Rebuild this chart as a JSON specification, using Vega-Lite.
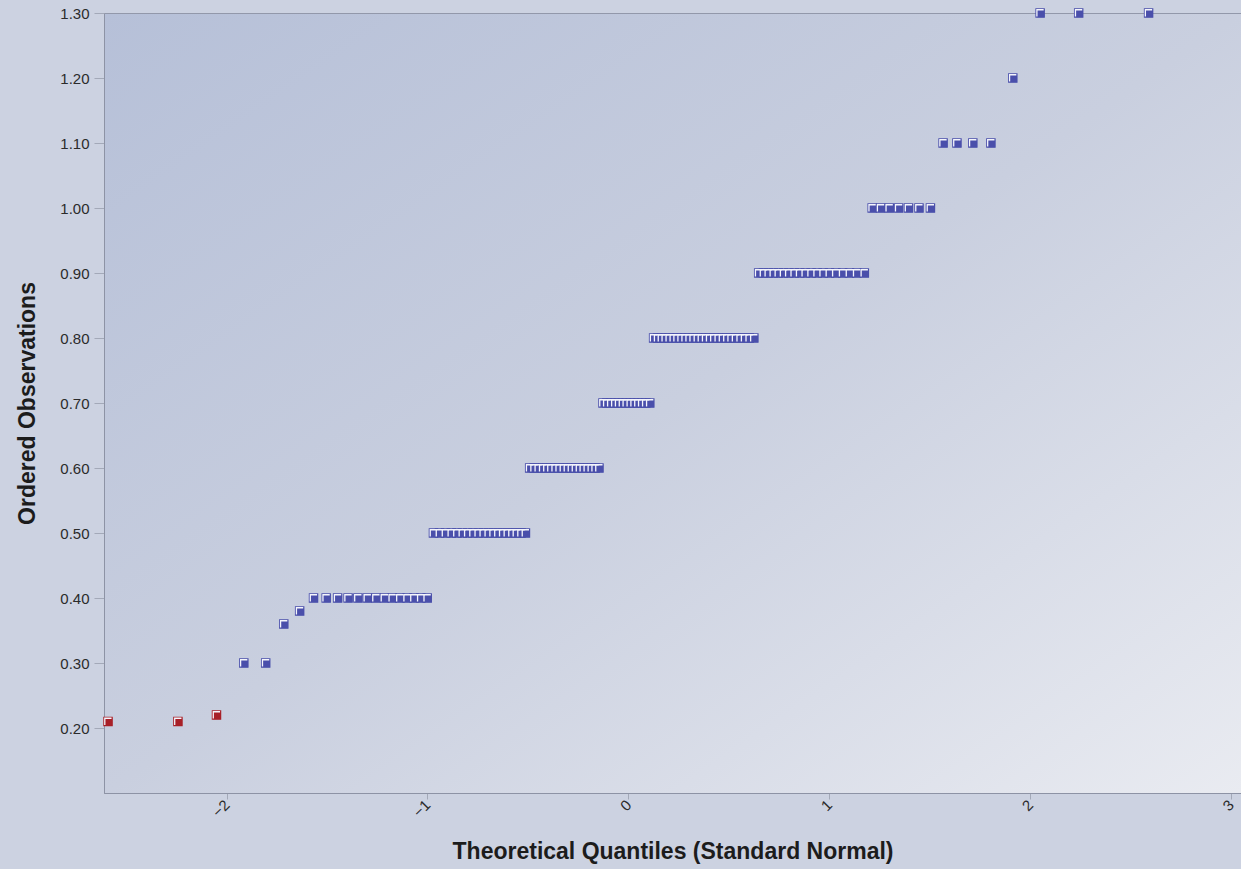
{
  "$schema": "https://vega.github.io/schema/vega-lite/v6.json",
  "autosize": {"type": "none"},
  "width": 1137,
  "height": 780,
  "padding": {"left": 104, "top": 13, "right": 0, "bottom": 76},
  "background": "#ccd2e1",
  "config": {
    "font": "Liberation Sans",
    "view": {
      "fill": {
        "gradient": "linear",
        "x1": 0, "y1": 0, "x2": 1, "y2": 1,
        "stops": [
          {"offset": 0, "color": "#b6c0d8"},
          {"offset": 0.5, "color": "#c9cfdf"},
          {"offset": 1, "color": "#e9ebf1"}
        ]
      },
      "stroke": "#9298aa",
      "strokeWidth": 1
    },
    "axis": {
      "domainColor": "#8d93a5",
      "tickColor": "#a3a9b8",
      "grid": false,
      "labelFont": "Liberation Sans",
      "labelFontSize": 15,
      "labelColor": "#2b2b2b",
      "titleFont": "Liberation Sans",
      "titleFontSize": 23,
      "titleFontWeight": "bold",
      "titleColor": "#1c1c1c"
    }
  },
  "data": {
    "values": [
      {"q": -2.590, "v": 0.21, "g": "low"},
      {"q": -2.242, "v": 0.21, "g": "low"},
      {"q": -2.050, "v": 0.22, "g": "low"},
      {"q": -1.914, "v": 0.30, "g": "main"},
      {"q": -1.805, "v": 0.30, "g": "main"},
      {"q": -1.715, "v": 0.36, "g": "main"},
      {"q": -1.636, "v": 0.38, "g": "main"},
      {"q": -1.567, "v": 0.40, "g": "main"},
      {"q": -1.504, "v": 0.40, "g": "main"},
      {"q": -1.447, "v": 0.40, "g": "main"},
      {"q": -1.395, "v": 0.40, "g": "main"},
      {"q": -1.346, "v": 0.40, "g": "main"},
      {"q": -1.299, "v": 0.40, "g": "main"},
      {"q": -1.256, "v": 0.40, "g": "main"},
      {"q": -1.214, "v": 0.40, "g": "main"},
      {"q": -1.175, "v": 0.40, "g": "main"},
      {"q": -1.137, "v": 0.40, "g": "main"},
      {"q": -1.101, "v": 0.40, "g": "main"},
      {"q": -1.067, "v": 0.40, "g": "main"},
      {"q": -1.033, "v": 0.40, "g": "main"},
      {"q": -1.001, "v": 0.40, "g": "main"},
      {"q": -0.970, "v": 0.50, "g": "main"},
      {"q": -0.940, "v": 0.50, "g": "main"},
      {"q": -0.910, "v": 0.50, "g": "main"},
      {"q": -0.881, "v": 0.50, "g": "main"},
      {"q": -0.853, "v": 0.50, "g": "main"},
      {"q": -0.826, "v": 0.50, "g": "main"},
      {"q": -0.799, "v": 0.50, "g": "main"},
      {"q": -0.773, "v": 0.50, "g": "main"},
      {"q": -0.747, "v": 0.50, "g": "main"},
      {"q": -0.722, "v": 0.50, "g": "main"},
      {"q": -0.697, "v": 0.50, "g": "main"},
      {"q": -0.673, "v": 0.50, "g": "main"},
      {"q": -0.649, "v": 0.50, "g": "main"},
      {"q": -0.625, "v": 0.50, "g": "main"},
      {"q": -0.602, "v": 0.50, "g": "main"},
      {"q": -0.579, "v": 0.50, "g": "main"},
      {"q": -0.557, "v": 0.50, "g": "main"},
      {"q": -0.534, "v": 0.50, "g": "main"},
      {"q": -0.512, "v": 0.50, "g": "main"},
      {"q": -0.491, "v": 0.60, "g": "main"},
      {"q": -0.469, "v": 0.60, "g": "main"},
      {"q": -0.448, "v": 0.60, "g": "main"},
      {"q": -0.426, "v": 0.60, "g": "main"},
      {"q": -0.405, "v": 0.60, "g": "main"},
      {"q": -0.385, "v": 0.60, "g": "main"},
      {"q": -0.364, "v": 0.60, "g": "main"},
      {"q": -0.344, "v": 0.60, "g": "main"},
      {"q": -0.323, "v": 0.60, "g": "main"},
      {"q": -0.303, "v": 0.60, "g": "main"},
      {"q": -0.283, "v": 0.60, "g": "main"},
      {"q": -0.263, "v": 0.60, "g": "main"},
      {"q": -0.243, "v": 0.60, "g": "main"},
      {"q": -0.224, "v": 0.60, "g": "main"},
      {"q": -0.204, "v": 0.60, "g": "main"},
      {"q": -0.184, "v": 0.60, "g": "main"},
      {"q": -0.165, "v": 0.60, "g": "main"},
      {"q": -0.146, "v": 0.60, "g": "main"},
      {"q": -0.126, "v": 0.70, "g": "main"},
      {"q": -0.107, "v": 0.70, "g": "main"},
      {"q": -0.087, "v": 0.70, "g": "main"},
      {"q": -0.067, "v": 0.70, "g": "main"},
      {"q": -0.048, "v": 0.70, "g": "main"},
      {"q": -0.029, "v": 0.70, "g": "main"},
      {"q": -0.010, "v": 0.70, "g": "main"},
      {"q": 0.010, "v": 0.70, "g": "main"},
      {"q": 0.029, "v": 0.70, "g": "main"},
      {"q": 0.048, "v": 0.70, "g": "main"},
      {"q": 0.067, "v": 0.70, "g": "main"},
      {"q": 0.087, "v": 0.70, "g": "main"},
      {"q": 0.107, "v": 0.70, "g": "main"},
      {"q": 0.126, "v": 0.80, "g": "main"},
      {"q": 0.146, "v": 0.80, "g": "main"},
      {"q": 0.165, "v": 0.80, "g": "main"},
      {"q": 0.184, "v": 0.80, "g": "main"},
      {"q": 0.204, "v": 0.80, "g": "main"},
      {"q": 0.224, "v": 0.80, "g": "main"},
      {"q": 0.243, "v": 0.80, "g": "main"},
      {"q": 0.263, "v": 0.80, "g": "main"},
      {"q": 0.283, "v": 0.80, "g": "main"},
      {"q": 0.303, "v": 0.80, "g": "main"},
      {"q": 0.323, "v": 0.80, "g": "main"},
      {"q": 0.344, "v": 0.80, "g": "main"},
      {"q": 0.364, "v": 0.80, "g": "main"},
      {"q": 0.385, "v": 0.80, "g": "main"},
      {"q": 0.405, "v": 0.80, "g": "main"},
      {"q": 0.426, "v": 0.80, "g": "main"},
      {"q": 0.448, "v": 0.80, "g": "main"},
      {"q": 0.469, "v": 0.80, "g": "main"},
      {"q": 0.491, "v": 0.80, "g": "main"},
      {"q": 0.512, "v": 0.80, "g": "main"},
      {"q": 0.534, "v": 0.80, "g": "main"},
      {"q": 0.557, "v": 0.80, "g": "main"},
      {"q": 0.579, "v": 0.80, "g": "main"},
      {"q": 0.602, "v": 0.80, "g": "main"},
      {"q": 0.625, "v": 0.80, "g": "main"},
      {"q": 0.649, "v": 0.90, "g": "main"},
      {"q": 0.673, "v": 0.90, "g": "main"},
      {"q": 0.697, "v": 0.90, "g": "main"},
      {"q": 0.722, "v": 0.90, "g": "main"},
      {"q": 0.747, "v": 0.90, "g": "main"},
      {"q": 0.773, "v": 0.90, "g": "main"},
      {"q": 0.799, "v": 0.90, "g": "main"},
      {"q": 0.826, "v": 0.90, "g": "main"},
      {"q": 0.853, "v": 0.90, "g": "main"},
      {"q": 0.881, "v": 0.90, "g": "main"},
      {"q": 0.910, "v": 0.90, "g": "main"},
      {"q": 0.940, "v": 0.90, "g": "main"},
      {"q": 0.970, "v": 0.90, "g": "main"},
      {"q": 1.001, "v": 0.90, "g": "main"},
      {"q": 1.033, "v": 0.90, "g": "main"},
      {"q": 1.067, "v": 0.90, "g": "main"},
      {"q": 1.101, "v": 0.90, "g": "main"},
      {"q": 1.137, "v": 0.90, "g": "main"},
      {"q": 1.175, "v": 0.90, "g": "main"},
      {"q": 1.214, "v": 1.00, "g": "main"},
      {"q": 1.256, "v": 1.00, "g": "main"},
      {"q": 1.299, "v": 1.00, "g": "main"},
      {"q": 1.346, "v": 1.00, "g": "main"},
      {"q": 1.395, "v": 1.00, "g": "main"},
      {"q": 1.447, "v": 1.00, "g": "main"},
      {"q": 1.504, "v": 1.00, "g": "main"},
      {"q": 1.567, "v": 1.10, "g": "main"},
      {"q": 1.636, "v": 1.10, "g": "main"},
      {"q": 1.715, "v": 1.10, "g": "main"},
      {"q": 1.805, "v": 1.10, "g": "main"},
      {"q": 1.914, "v": 1.20, "g": "main"},
      {"q": 2.050, "v": 1.30, "g": "main"},
      {"q": 2.242, "v": 1.30, "g": "main"},
      {"q": 2.590, "v": 1.30, "g": "main"}
    ]
  },
  "encoding": {
    "x": {
      "field": "q",
      "type": "quantitative",
      "title": "Theoretical Quantiles (Standard Normal)",
      "scale": {"domain": [-2.61, 3.05], "nice": false, "zero": false},
      "axis": {
        "values": [-2, -1, 0, 1, 2, 3],
        "format": "d",
        "labelAngle": -45,
        "labelAlign": "right",
        "labelBaseline": "middle",
        "tickSize": 6,
        "labelPadding": 3,
        "titlePadding": 21,
        "labelFlush": false,
        "labelOverlap": false
      }
    },
    "y": {
      "field": "v",
      "type": "quantitative",
      "title": "Ordered Observations",
      "scale": {"domain": [0.1, 1.3], "nice": false, "zero": false},
      "axis": {
        "values": [0.2, 0.3, 0.4, 0.5, 0.6, 0.7, 0.8, 0.9, 1.0, 1.1, 1.2, 1.3],
        "format": ".2f",
        "tickSize": 10,
        "labelPadding": 5,
        "titlePadding": 20,
        "labelFlush": false,
        "labelOverlap": false
      }
    }
  },
  "layer": [
    {
      "mark": {"type": "point", "shape": "square", "filled": true, "size": 90, "opacity": 1},
      "encoding": {
        "color": {
          "field": "g",
          "type": "nominal",
          "scale": {"domain": ["main", "low"], "range": ["#4a4fab", "#a82028"]},
          "legend": null
        }
      }
    },
    {
      "mark": {"type": "point", "shape": "square", "filled": true, "size": 56, "opacity": 1, "xOffset": 0.5, "yOffset": 0.5},
      "encoding": {
        "color": {
          "field": "g",
          "type": "nominal",
          "scale": {"domain": ["main", "low"], "range": ["#6a6ed0", "#d23c44"]},
          "legend": null
        }
      }
    },
    {
      "mark": {
        "type": "point",
        "shape": "M -0.68 0.75 L -0.68 -0.68 L 0.75 -0.68",
        "filled": false,
        "size": 90,
        "opacity": 1,
        "stroke": "#f4f5fc",
        "strokeWidth": 1.3
      }
    }
  ]
}
